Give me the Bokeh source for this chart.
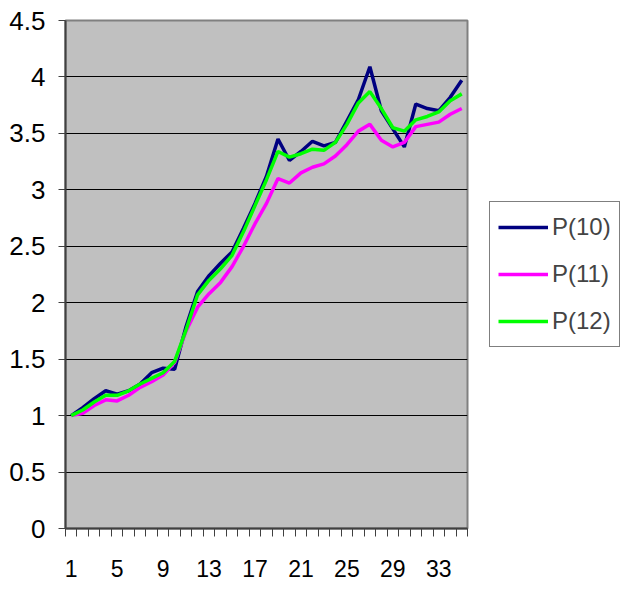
from bokeh.plotting import figure
from bokeh.layouts import row
from bokeh.models import FixedTicker, Legend, LegendItem, Range1d, ColumnDataSource
from bokeh.embed import file_html
from bokeh.resources import INLINE

categories = list(range(1, 36))
p10 = [1.00, 1.07, 1.15, 1.22, 1.19, 1.22, 1.28, 1.38, 1.42, 1.41,
       1.79, 2.10, 2.24, 2.35, 2.45, 2.66, 2.88, 3.12, 3.45, 3.26,
       3.34, 3.43, 3.39, 3.42, 3.61, 3.80, 4.09, 3.70, 3.54, 3.38,
       3.76, 3.72, 3.70, 3.82, 3.97]
p11 = [1.00, 1.02, 1.09, 1.14, 1.13, 1.18, 1.25, 1.30, 1.36, 1.47,
       1.75, 1.96, 2.08, 2.18, 2.32, 2.50, 2.70, 2.88, 3.10, 3.06,
       3.15, 3.20, 3.23, 3.30, 3.40, 3.52, 3.58, 3.44, 3.38, 3.42,
       3.56, 3.58, 3.60, 3.67, 3.72]
p12 = [1.00, 1.05, 1.12, 1.18, 1.18, 1.22, 1.28, 1.33, 1.38, 1.48,
       1.76, 2.07, 2.20, 2.30, 2.42, 2.63, 2.86, 3.09, 3.34, 3.29,
       3.32, 3.36, 3.35, 3.42, 3.58, 3.77, 3.87, 3.72, 3.55, 3.52,
       3.62, 3.65, 3.69, 3.79, 3.85]
series_names = ["P(10)", "P(11)", "P(12)"]
series_colors = ["#000080", "#FF00FF", "#00FF00"]
y_ticks = [0, 0.5, 1, 1.5, 2, 2.5, 3, 3.5, 4, 4.5]
x_label_ticks = [1, 5, 9, 13, 17, 21, 25, 29, 33]

FONT = "Liberation Sans"
H = 584

p = figure(width=469, height=H, output_backend="svg", toolbar_location=None,
           x_range=Range1d(0.5, 35.5), y_range=Range1d(0, 4.5),
           min_border_left=65, min_border_right=2, min_border_top=20, min_border_bottom=56)
p.background_fill_color = "#C0C0C0"
p.border_fill_color = "white"
p.outline_line_color = "#808080"
p.outline_line_width = 2

p.xgrid.grid_line_color = None
p.ygrid.grid_line_color = "black"
p.ygrid.grid_line_width = 1
p.ygrid.ticker = FixedTicker(ticks=y_ticks)

boundaries = [c - 0.5 for c in categories] + [categories[-1] + 0.5]
p.xaxis.ticker = FixedTicker(ticks=x_label_ticks, minor_ticks=boundaries)
p.xaxis.major_tick_out = 0
p.xaxis.major_tick_in = 0
p.xaxis.minor_tick_out = 8
p.xaxis.minor_tick_in = 0
p.xaxis.minor_tick_line_color = "#404040"
p.xaxis.minor_tick_line_width = 1
p.xaxis.major_label_standoff = 23
p.xaxis.axis_line_color = "#404040"
p.xaxis.axis_line_width = 2
p.xaxis.major_label_text_font_size = "23px"

p.yaxis.ticker = FixedTicker(ticks=y_ticks)
p.yaxis.major_label_overrides = {0: "0", 0.5: "0.5", 1: "1", 1.5: "1.5", 2: "2",
                                 2.5: "2.5", 3: "3", 3.5: "3.5", 4: "4", 4.5: "4.5"}
p.yaxis.minor_tick_line_color = None
p.yaxis.major_tick_out = 7
p.yaxis.major_tick_in = 0
p.yaxis.major_tick_line_color = "#404040"
p.yaxis.major_label_standoff = 13
p.yaxis.axis_line_color = "#404040"
p.yaxis.axis_line_width = 2
p.yaxis.major_label_text_font_size = "26px"

for ax in (p.xaxis, p.yaxis):
    ax.major_label_text_font = FONT
    ax.major_label_text_color = "black"

src = ColumnDataSource(dict(x=categories, p10=p10, p11=p11, p12=p12))
for key, col in zip(["p10", "p11", "p12"], series_colors):
    p.line("x", key, source=src, line_color=col, line_width=3.5)

# legend panel (same series, drawn off-range so only the legend swatches show)
p2 = figure(width=152, height=H, output_backend="svg", toolbar_location=None,
            x_range=Range1d(-20, -10), y_range=Range1d(-20, -10),
            min_border_left=0, min_border_right=0, min_border_top=20, min_border_bottom=56)
p2.axis.visible = False
p2.grid.visible = False
p2.outline_line_color = None
p2.background_fill_color = "white"
p2.border_fill_color = "white"
items = []
for key, name, col in zip(["p10", "p11", "p12"], series_names, series_colors):
    r = p2.line("x", key, source=src, line_color=col, line_width=3.5)
    items.append(LegendItem(label=name, renderers=[r]))

legend = Legend(items=items, location=(20, 181))
legend.label_text_font = FONT
legend.label_text_font_size = "24px"
legend.glyph_width = 50
legend.glyph_height = 34
legend.label_height = 34
legend.spacing = 13
legend.padding = 8
legend.margin = 0
legend.label_standoff = 4
legend.border_line_color = "black"
legend.border_line_width = 1
legend.background_fill_color = "white"
legend.background_fill_alpha = 1.0
p2.add_layout(legend, "center")

layout = row(p, p2, spacing=0)
open("out.html", "w").write(file_html(layout, INLINE))
